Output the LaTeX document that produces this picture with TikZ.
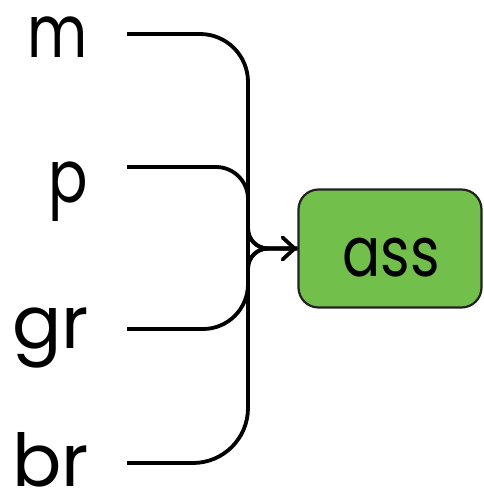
\documentclass[tikz,border=0pt]{standalone}
\usepackage{fontspec}
\setmainfont{Poppins}
\usetikzlibrary{arrows.meta}
\definecolor{boxgreen}{HTML}{72BF4B}
\definecolor{boxedge}{HTML}{222222}
\begin{document}
\begin{tikzpicture}[x=1pt,y=-1pt,
  lbl/.style={anchor=base east,inner sep=0pt,font=\fontsize{73}{80}\selectfont},
  narrow/.style={font=\fontsize{73}{80}\selectfont\addfontfeature{FakeStretch=0.8}},
  conn/.style={line width=3.8pt,black},
  target/.style={draw=boxedge,line width=2.2pt,fill=boxgreen,rounded corners=20pt,
    minimum width=183pt,minimum height=118pt,inner sep=0pt},
  boxtext/.style={anchor=base,inner sep=0pt,font=\fontsize{69}{76}\selectfont\addfontfeature{FakeStretch=0.82}},
  tip/.style={-{Straight Barb[length=12pt,width=22pt,line cap=round]}}]
\useasboundingbox (0,0) rectangle (483,495);
\node[lbl,narrow] (m) at (88,58) {m};
\node[lbl,narrow] (p) at (88,202) {p};
\node[lbl] (gr) at (89,348) {gr};
\node[lbl] (br) at (89,486) {br};
\node[target] (ass) at (390,248.5) {};
\node[boxtext] (asst) at (391,276) {ass};
\coordinate (sm) at (127,34);
\coordinate (sp) at (127,167);
\coordinate (sg) at (127,329);
\coordinate (sb) at (127,463);
\coordinate (jt) at (248,212);
\coordinate (jb) at (248,260);
\draw[conn,tip] (sm) [rounded corners=48pt] -| (jt) [rounded corners=20pt] |- (ass.west);
\draw[conn] (sp) [rounded corners=32pt] -| (jt) [rounded corners=20pt] |- (ass.west);
\draw[conn] (sg) [rounded corners=45pt] -| (jb) [rounded corners=20pt] |- (ass.west);
\draw[conn] (sb) [rounded corners=55pt] -| (jb) [rounded corners=20pt] |- (ass.west);
\end{tikzpicture}
\end{document}
